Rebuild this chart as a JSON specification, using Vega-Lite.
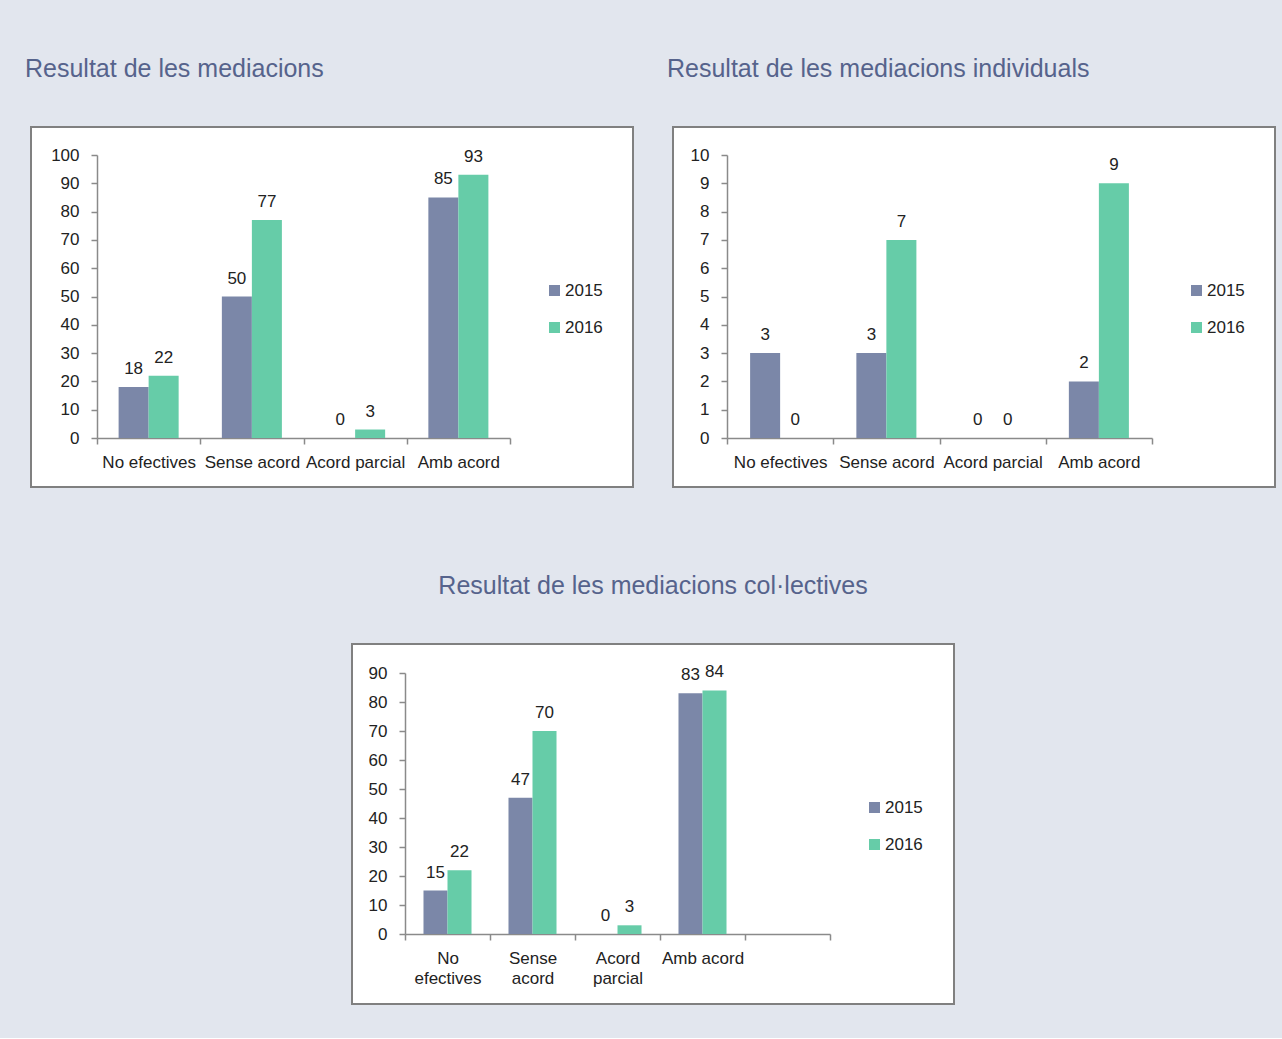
{
  "$schema": "https://vega.github.io/schema/vega-lite/v6.json",
  "background": "#e2e6ee",
  "padding": {"left": 24, "top": 56, "right": 8, "bottom": 33},
  "autosize": {"type": "pad"},
  "config": {
    "font": "Liberation Sans",
    "view": {"fill": "white", "stroke": "#808080", "strokeWidth": 2},
    "axis": {"labelFontSize": 17, "labelColor": "#222222", "domainColor": "#8a8a8a", "tickColor": "#8a8a8a", "domainWidth": 1.5, "tickWidth": 1.5, "tickSize": 6, "grid": false, "title": null, "labelFont": "Liberation Sans"},
    "legend": {"labelFontSize": 17, "labelColor": "#222222", "symbolType": "square", "symbolSize": 121, "symbolStrokeWidth": 0, "labelOffset": 2, "rowPadding": 19, "title": null, "orient": "none", "legendX": 515, "legendY": 155},
    "title": {"fontSize": 25, "fontWeight": "normal", "color": "#56638c", "font": "Liberation Sans"},
    "text": {"fontSize": 17, "color": "#222222"}
  },
  "datasets": {
    "total": [
      {"cat": "No efectives", "year": "2015", "value": 18},
      {"cat": "No efectives", "year": "2016", "value": 22},
      {"cat": "Sense acord", "year": "2015", "value": 50},
      {"cat": "Sense acord", "year": "2016", "value": 77},
      {"cat": "Acord parcial", "year": "2015", "value": 0},
      {"cat": "Acord parcial", "year": "2016", "value": 3},
      {"cat": "Amb acord", "year": "2015", "value": 85},
      {"cat": "Amb acord", "year": "2016", "value": 93}
    ],
    "individual": [
      {"cat": "No efectives", "year": "2015", "value": 3},
      {"cat": "No efectives", "year": "2016", "value": 0},
      {"cat": "Sense acord", "year": "2015", "value": 3},
      {"cat": "Sense acord", "year": "2016", "value": 7},
      {"cat": "Acord parcial", "year": "2015", "value": 0},
      {"cat": "Acord parcial", "year": "2016", "value": 0},
      {"cat": "Amb acord", "year": "2015", "value": 2},
      {"cat": "Amb acord", "year": "2016", "value": 9}
    ],
    "collective": [
      {"cat": "No efectives", "year": "2015", "value": 15},
      {"cat": "No efectives", "year": "2016", "value": 22},
      {"cat": "Sense acord", "year": "2015", "value": 47},
      {"cat": "Sense acord", "year": "2016", "value": 70},
      {"cat": "Acord parcial", "year": "2015", "value": 0},
      {"cat": "Acord parcial", "year": "2016", "value": 3},
      {"cat": "Amb acord", "year": "2015", "value": 83},
      {"cat": "Amb acord", "year": "2016", "value": 84}
    ]
  },
  "spacing": 85,
  "bounds": "full",
  "center": true,
  "resolve": {"scale": {"color": "independent", "x": "independent", "y": "independent", "xOffset": "independent"}, "legend": {"color": "independent"}},
  "vconcat": [
    {
      "spacing": 40,
      "bounds": "flush",
      "resolve": {"scale": {"color": "independent", "x": "independent", "y": "independent", "xOffset": "independent"}, "legend": {"color": "independent"}},
      "hconcat": [
        {
          "width": 602, "height": 360,
          "title": {"text": "Resultat de les mediacions", "anchor": "start", "dx": -6, "offset": 25, "baseline": "alphabetic"},
          "data": {"name": "total"},
          "encoding": {
            "x": {"field": "cat", "type": "nominal", "scale": {"domain": ["No efectives", "Sense acord", "Acord parcial", "Amb acord"], "range": [66, 479], "paddingInner": 0, "paddingOuter": 0}, "axis": {"labelAngle": 0, "offset": -49, "tickBand": "extent", "labelPadding": 10}},
            "xOffset": {"field": "year", "type": "nominal", "scale": {"paddingInner": 0, "paddingOuter": 0.72}},
            "y": {"field": "value", "type": "quantitative", "scale": {"domain": [0, 100], "range": [311, 28], "nice": false}, "axis": {"values": [0, 10, 20, 30, 40, 50, 60, 70, 80, 90, 100], "offset": -66, "labelPadding": 12}}
          },
          "layer": [
            {"mark": {"type": "bar"}, "encoding": {"color": {"field": "year", "type": "nominal", "scale": {"domain": ["2015", "2016"], "range": ["#7b87a8", "#66cca8"]}}}},
            {"mark": {"type": "text", "dy": -13, "baseline": "alphabetic"}, "encoding": {"text": {"field": "value", "type": "quantitative"}}}
          ]
        },
        {
          "width": 602, "height": 360,
          "title": {"text": "Resultat de les mediacions individuals", "anchor": "start", "dx": -6, "offset": 25, "baseline": "alphabetic"},
          "data": {"name": "individual"},
          "encoding": {
            "x": {"field": "cat", "type": "nominal", "scale": {"domain": ["No efectives", "Sense acord", "Acord parcial", "Amb acord"], "range": [54, 479], "paddingInner": 0, "paddingOuter": 0}, "axis": {"labelAngle": 0, "offset": -49, "tickBand": "extent", "labelPadding": 10}},
            "xOffset": {"field": "year", "type": "nominal", "scale": {"paddingInner": 0, "paddingOuter": 0.77}},
            "y": {"field": "value", "type": "quantitative", "scale": {"domain": [0, 10], "range": [311, 28], "nice": false}, "axis": {"values": [0, 1, 2, 3, 4, 5, 6, 7, 8, 9, 10], "offset": -54, "labelPadding": 12}}
          },
          "layer": [
            {"mark": {"type": "bar"}, "encoding": {"color": {"field": "year", "type": "nominal", "scale": {"domain": ["2015", "2016"], "range": ["#7b87a8", "#66cca8"]}}}},
            {"mark": {"type": "text", "dy": -13, "baseline": "alphabetic"}, "encoding": {"text": {"field": "value", "type": "quantitative"}}}
          ]
        }
      ]
    },
    {
      "width": 602, "height": 360,
      "title": {"text": "Resultat de les mediacions col·lectives", "anchor": "middle", "offset": 25, "baseline": "alphabetic"},
      "data": {"name": "collective"},
      "encoding": {
        "x": {"field": "cat", "type": "nominal", "scale": {"domain": ["No efectives", "Sense acord", "Acord parcial", "Amb acord", " "], "range": [53, 478], "paddingInner": 0, "paddingOuter": 0}, "axis": {"labelAngle": 0, "offset": -70, "tickBand": "extent", "labelPadding": 10, "labelLineHeight": 20, "labelExpr": "datum.value == 'No efectives' ? ['No', 'efectives'] : datum.value == 'Sense acord' ? ['Sense', 'acord'] : datum.value == 'Acord parcial' ? ['Acord', 'parcial'] : datum.value"}},
        "xOffset": {"field": "year", "type": "nominal", "scale": {"paddingInner": 0, "paddingOuter": 0.77}},
        "y": {"field": "value", "type": "quantitative", "scale": {"domain": [0, 90], "range": [290, 29], "nice": false}, "axis": {"values": [0, 10, 20, 30, 40, 50, 60, 70, 80, 90], "offset": -53, "labelPadding": 12}}
      },
      "layer": [
        {"mark": {"type": "bar"}, "encoding": {"color": {"field": "year", "type": "nominal", "scale": {"domain": ["2015", "2016"], "range": ["#7b87a8", "#66cca8"]}, "legend": {"legendX": 514}}}},
        {"mark": {"type": "text", "dy": -13, "baseline": "alphabetic"}, "encoding": {"text": {"field": "value", "type": "quantitative"}}}
      ]
    }
  ]
}
